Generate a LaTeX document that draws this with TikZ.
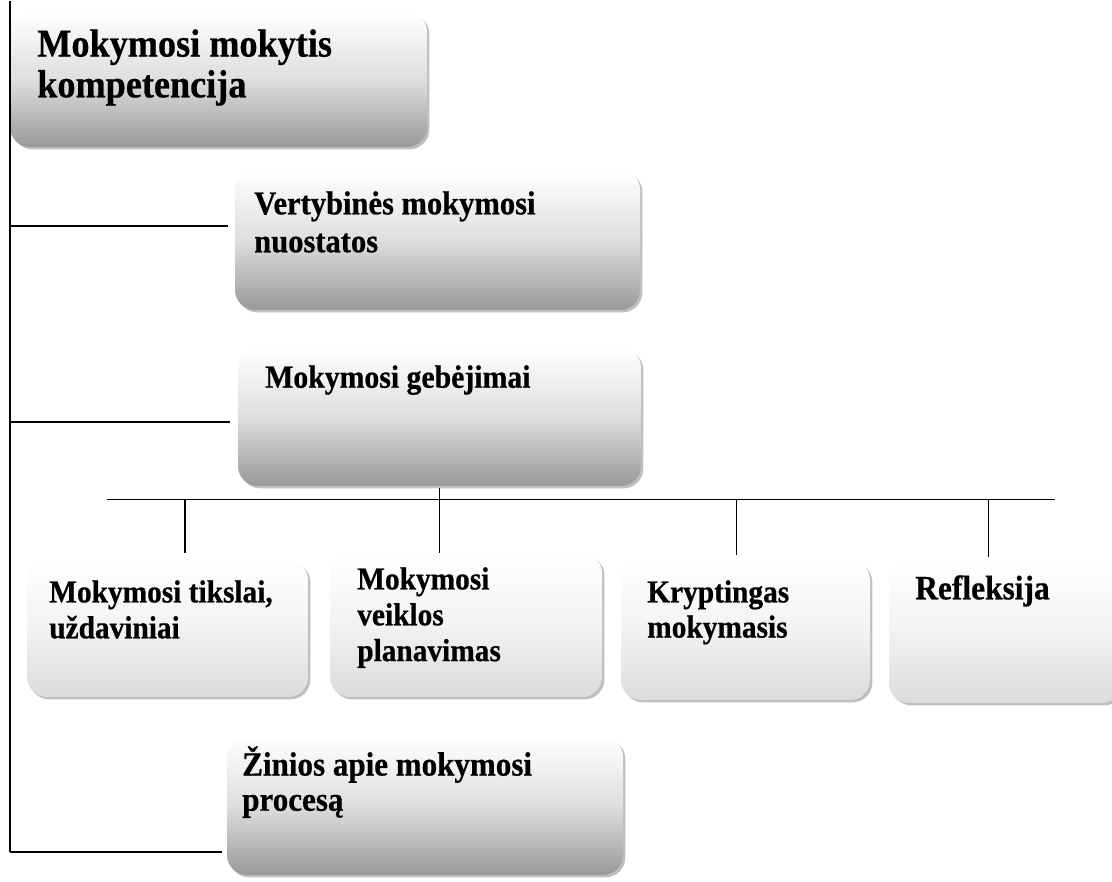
\documentclass[tikz,border=0pt]{standalone}
\usepackage{fontspec}
\setmainfont{Liberation Serif}
\newfontfamily\boxfont{Liberation Serif}[FakeStretch=0.92, FakeBold=0.6]
\usetikzlibrary{positioning, shadows, calc}

\tikzset{
  bigbox/.style={rounded corners=0.5cm, inner sep=0pt, top color=white, bottom color=black!40, middle color=black!13,
    drop shadow={shadow xshift=0.06cm, shadow yshift=-0.06cm, fill=black!50, opacity=0.5}},
  smallbox/.style={bigbox, bottom color=black!14, middle color=black!5},
  boxtext/.style={anchor=north west, inner sep=0pt, align=left, font=\boxfont\bfseries\fontsize{22.7}{25.5}\selectfont},
  link/.style={line width=1.1pt}
}

\begin{document}
\begin{tikzpicture}
  \useasboundingbox (0,0) rectangle (27.8,22.025);

  % main boxes on the left spine
  \node[bigbox, minimum width=10.425cm, minimum height=3.375cm] (kompet) at (5.4625, 20.0375) {};
  \node[boxtext, font=\boxfont\bfseries\fontsize{28}{29}\selectfont] (kompettxt) at (0.925, 21.3) {Mokymosi mokytis\\kompetencija};

  \node[bigbox, minimum width=10.125cm, minimum height=3.5cm] (nuost) at (10.9375, 16.025) {};
  \node[boxtext, font=\boxfont\bfseries\fontsize{23.6}{27}\selectfont] (nuosttxt) at (6.35, 17.25) {Vertybinės mokymosi\\nuostatos};

  \node[bigbox, minimum width=10.075cm, minimum height=3.45cm] (gebej) at (10.9875, 11.6) {};
  \node[boxtext, font=\boxfont\bfseries\fontsize{23}{26}\selectfont] (gebejtxt) at (6.625, 12.9) {Mokymosi gebėjimai};

  \node[bigbox, minimum width=9.9cm, minimum height=3.45cm] (zinios) at (10.625, 1.875) {};
  \node[boxtext, font=\boxfont\bfseries\fontsize{24}{25}\selectfont] (ziniostxt) at (6.05, 3.375) {Žinios apie mokymosi\\procesą};

  % abilities row
  \node[smallbox, minimum width=7.025cm, minimum height=3.425cm] (tiksl) at (4.1875, 6.3125) {};
  \node[boxtext] (tikslatxt) at (1.225, 7.525) {Mokymosi tikslai,\\uždaviniai};

  \node[smallbox, minimum width=6.8cm, minimum height=3.6cm] (planav) at (11.65, 6.4) {};
  \node[boxtext] (planavtxt) at (8.925, 7.85) {Mokymosi\\veiklos\\planavimas};

  \node[smallbox, minimum width=6.225cm, minimum height=3.5cm] (krypt) at (18.6375, 6.275) {};
  \node[boxtext, font=\boxfont\bfseries\fontsize{22.7}{25}\selectfont] (krypttxt) at (16.175, 7.525) {Kryptingas\\mokymasis};

  \node[smallbox, minimum width=5.825cm, minimum height=3.575cm] (refl) at (25.1375, 6.2375) {};
  \node[boxtext, font=\boxfont\bfseries\fontsize{24.3}{28}\selectfont] (refltxt) at (22.875, 7.65) {Refleksija};

  % spine and branches
  \coordinate (spinetop) at (0.25, 22.0);
  \coordinate (spinebot) at (0.25, 0.725);
  \coordinate (br1) at (0.25, 16.375);
  \coordinate (br2) at (0.25, 11.475);
  \draw[link] (spinetop) -- (spinebot);
  \draw[link, shorten >=0.175cm] (br1) -- (br1 -| nuost.west);
  \draw[link, shorten >=0.2cm] (br2) -- (br2 -| gebej.west);
  \draw[link, shorten >=0.125cm] (spinebot) -- (spinebot -| zinios.west);

  % bus under the abilities box
  \coordinate (busL) at (2.675, 9.54);
  \coordinate (busR) at (26.375, 9.54);
  \coordinate (ta) at (4.625, 9.54);
  \coordinate (tc) at (18.41, 9.54);
  \coordinate (td) at (24.71, 9.54);
  \draw[link] (busL) -- (busR);
  \draw[link, shorten <=0.05cm] (gebej.south) -- (gebej.south |- planav.north);
  \draw[link, shorten >=0.175cm] (ta) -- (ta |- tiksl.north);
  \draw[link, shorten >=0.125cm] (tc) -- (tc |- krypt.north);
  \draw[link, shorten >=0.075cm] (td) -- (td |- refl.north);
\end{tikzpicture}
\end{document}
